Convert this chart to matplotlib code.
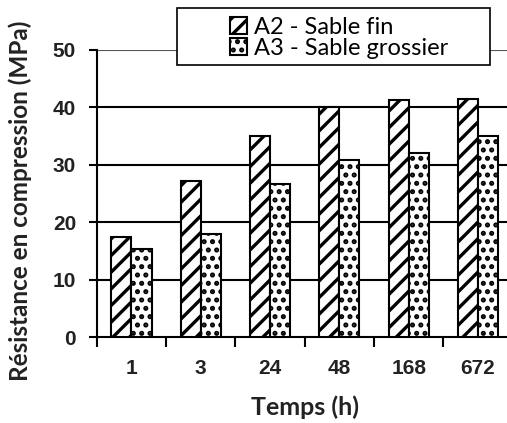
import numpy as np
import matplotlib
matplotlib.use("Agg")
import matplotlib.pyplot as plt
from matplotlib.patches import Rectangle

# data
temps = ["1", "3", "24", "48", "168", "672"]
a2_fin = [17.5, 27.2, 35.0, 40.0, 41.2, 41.5]
a3_grossier = [15.4, 17.9, 26.6, 30.9, 32.0, 35.0]
labels = ["A2 - Sable fin", "A3 - Sable grossier"]

plt.rcParams["hatch.linewidth"] = 2.4
plt.rcParams["hatch.color"] = "black"

fig = plt.figure(figsize=(5.07, 4.23), dpi=100)
ax = fig.add_axes([0.191, 0.203, 0.82, 0.679])

x = np.arange(len(temps))
w = 0.29
ax.bar(x - w / 2, a2_fin, w, color="white", edgecolor="black", linewidth=1.5,
       hatch="//", label=labels[0], zorder=3)
ax.bar(x + w / 2, a3_grossier, w, color="white", edgecolor="black", linewidth=1.5,
       hatch="..", label=labels[1], zorder=3)

ax.set_xlim(-0.5, 5.5)
ax.set_ylim(0, 50)

# horizontal grid
for yv in [10, 20, 30, 40]:
    ax.axhline(yv, color="black", lw=1.5, zorder=1)
ax.axhline(50, color="#555555", lw=0.8, zorder=1)

for s in ["top", "right"]:
    ax.spines[s].set_visible(False)
ax.spines["left"].set_linewidth(1.5)
ax.spines["bottom"].set_linewidth(1.5)

tick_font = {"family": "Liberation Sans", "size": 15, "weight": "bold"}

ax.set_yticks([0, 10, 20, 30, 40, 50])
ax.set_yticklabels(["0", "10", "20", "30", "40", "50"], fontdict=tick_font, color="#222222")
ax.tick_params(axis="y", direction="out", length=6, width=1.5, pad=9)

ax.set_xticks(np.arange(-0.5, 6, 1.0))
ax.set_xticklabels([])
ax.tick_params(axis="x", which="major", direction="out", length=7, width=1.5)
ax.set_xticks(x, minor=True)
ax.set_xticklabels(temps, minor=True, fontdict=tick_font, color="#222222")
ax.tick_params(axis="x", which="minor", length=0, pad=16)

ax.set_xlabel("Temps (h)", fontsize=18, fontweight="bold", family="Lato",
              color="#222222", labelpad=12)
ax.set_ylabel("Résistance en compression (MPa)", fontsize=17.5, fontweight="bold",
              family="Lato", color="#222222")
ax.yaxis.set_label_coords(-0.155, 0.475)

# legend frame + legend
frame = Rectangle((177 / 507, 1 - 65 / 423), (490 - 177) / 507, (65 - 8) / 423,
                  transform=fig.transFigure, facecolor="white", edgecolor="black",
                  lw=1.2, zorder=4)
fig.patches.append(frame)
leg = fig.legend(loc="center left", bbox_to_anchor=(230 / 507, 1 - 38 / 423),
                 frameon=False, prop={"family": "Lato", "size": 17},
                 handlelength=0.7, handleheight=0.7, handletextpad=0.3,
                 labelspacing=0.0, borderpad=0, borderaxespad=0)
leg.set_zorder(5)

fig.savefig("out.png", dpi=100)
